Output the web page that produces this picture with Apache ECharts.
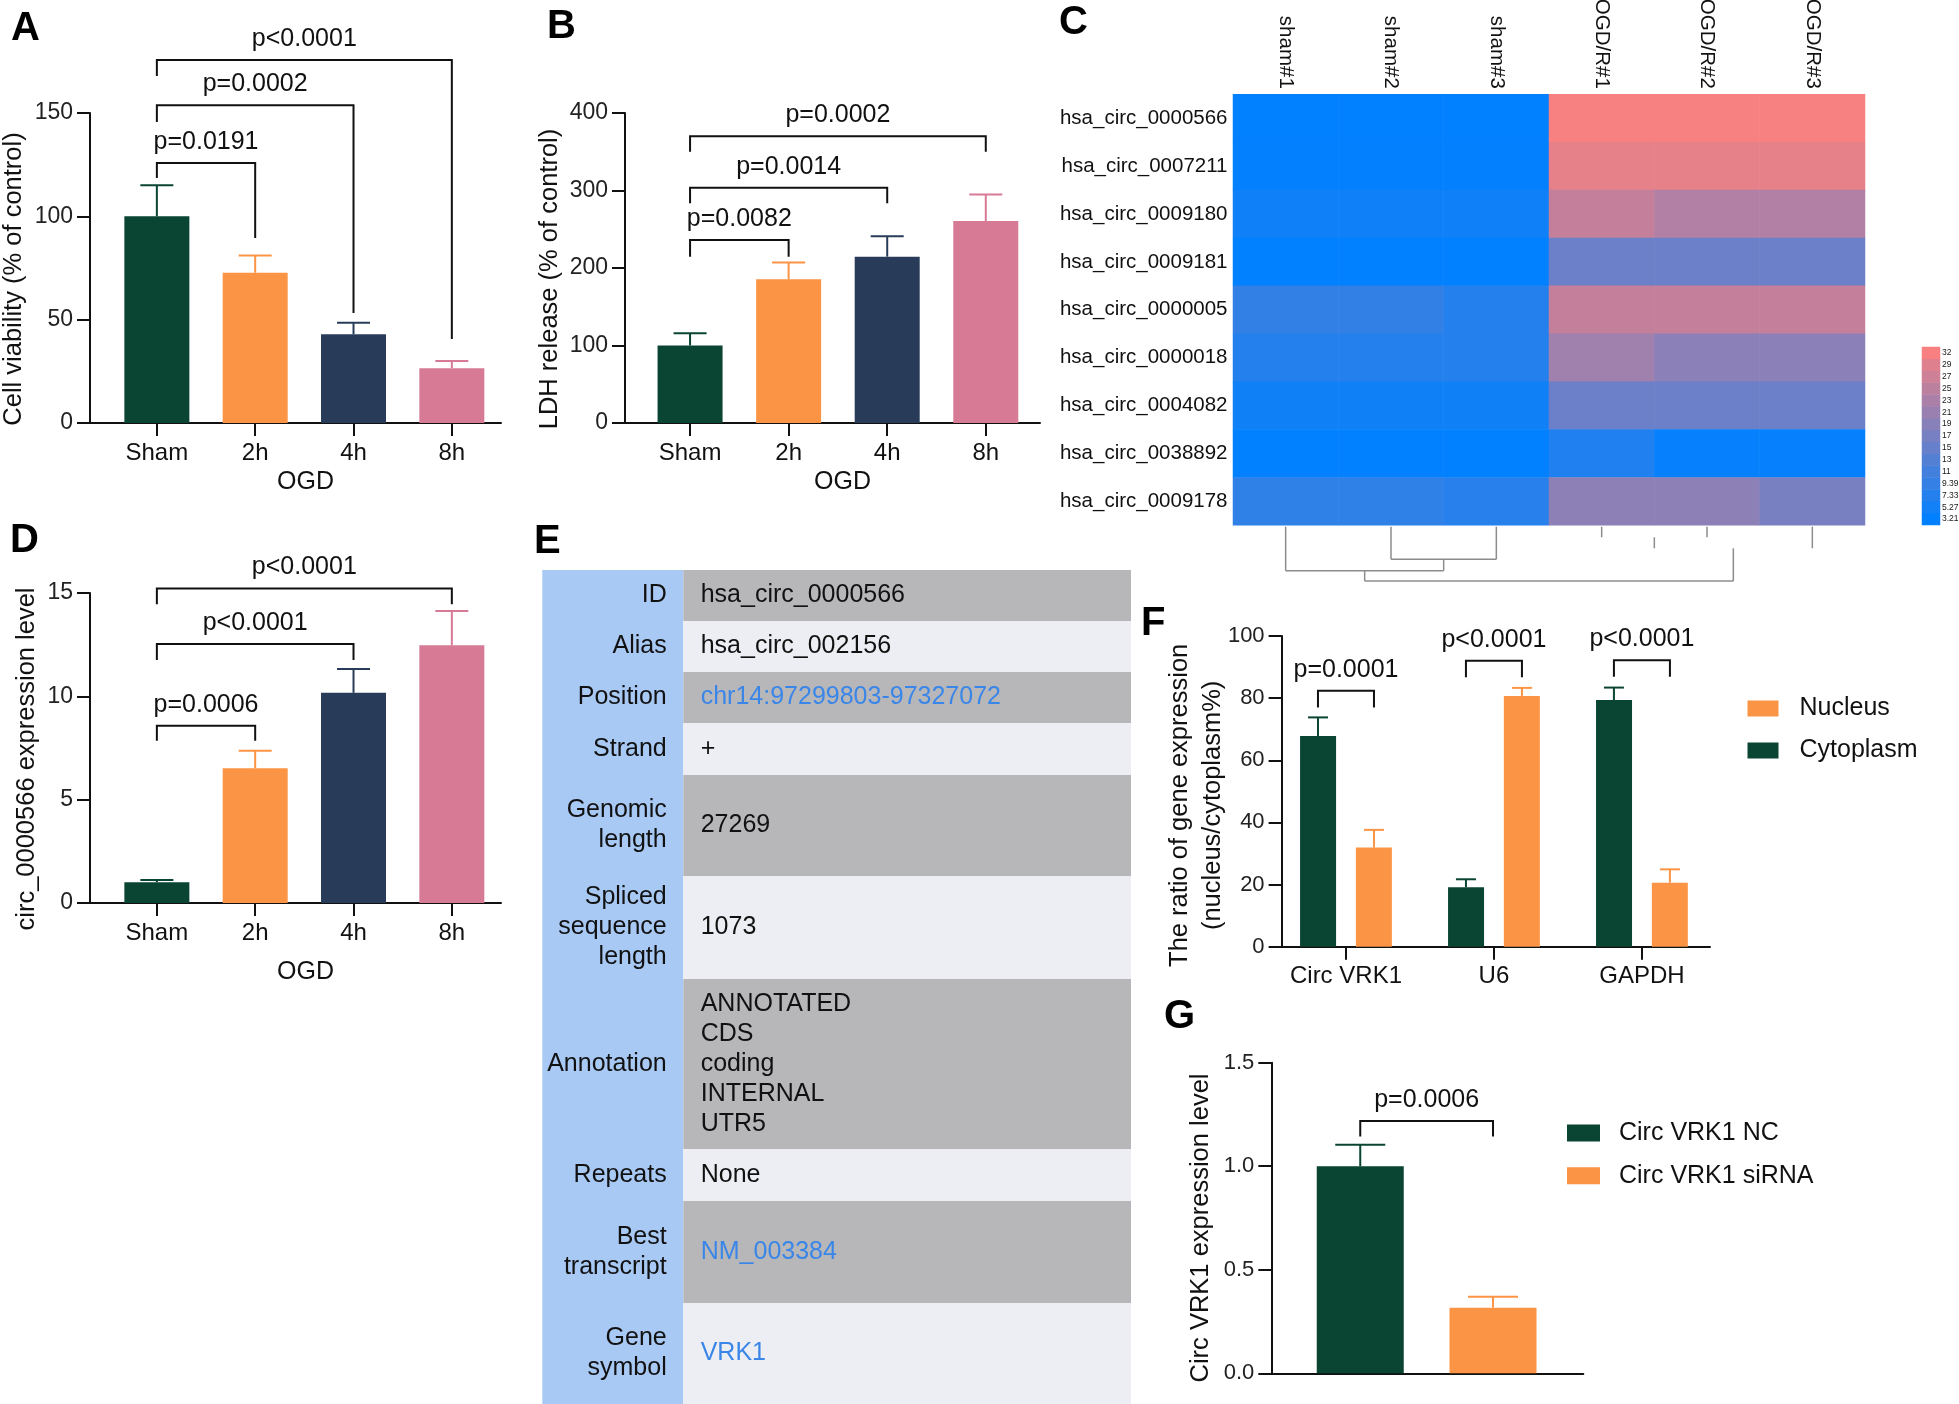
<!DOCTYPE html>
<html>
<head>
<meta charset="utf-8">
<script src="https://cdn.jsdelivr.net/npm/echarts@6/dist/echarts.min.js"></script>
<style>
  html, body { margin: 0; padding: 0; background: #fff; overflow: hidden; }
  #main { width: 1959px; height: 1404px; }
</style>
</head>
<body>
<div id="main"></div>
<script>
// ---- data ----
const ogdGroups = ['Sham', '2h', '4h', '8h'];

const viabilityMean = [100, 72.7, 42.9, 26.5];
const viabilityUpper = [115, 81, 48.5, 30];
// [from, to, bracket height, left leg end, right leg end]
const viabilityPairs = [[0, 1, 125.8, 118.5, 89.5], [0, 2, 153.8, 145.6, 53.2], [0, 3, 175.6, 167.9, 40.6]];
const viabilityP = ['p=0.0191', 'p=0.0002', 'p<0.0001'];

const ldhMean = [100, 185.4, 214.6, 260.6];
const ldhUpper = [115.7, 207, 241, 295];
const ldhPairs = [[0, 1, 236, 214.6, 214.6], [0, 2, 303.6, 283.5, 283.5], [0, 3, 370, 350, 350]];
const ldhP = ['p=0.0082', 'p=0.0014', 'p=0.0002'];

const circMean = [1.0, 6.52, 10.17, 12.47];
const circUpper = [1.11, 7.37, 11.32, 14.13];
const circPairs = [[0, 1, 8.58, 7.85, 7.85], [0, 2, 12.53, 11.76, 11.76], [0, 3, 15.22, 14.46, 14.46]];
const circP = ['p=0.0006', 'p<0.0001', 'p<0.0001'];

const heatCols = ['sham#1', 'sham#2', 'sham#3', 'OGD/R#1', 'OGD/R#2', 'OGD/R#3'];
const heatRows = ['hsa_circ_0000566', 'hsa_circ_0007211', 'hsa_circ_0009180', 'hsa_circ_0009181',
  'hsa_circ_0000005', 'hsa_circ_0000018', 'hsa_circ_0004082', 'hsa_circ_0038892', 'hsa_circ_0009178'];
const heatValues = [
  [3.3, 3.3, 3.3, 31.9, 31.9, 31.9],
  [3.4, 3.4, 3.4, 29.9, 29.9, 29.9],
  [5.0, 5.0, 5.0, 26.0, 23.9, 23.9],
  [3.3, 3.3, 3.3, 15.6, 15.6, 15.6],
  [9.0, 9.0, 7.4, 26.0, 26.0, 26.0],
  [7.4, 7.4, 7.4, 21.8, 19.3, 19.3],
  [5.1, 5.1, 5.1, 15.6, 15.6, 15.6],
  [3.3, 3.3, 3.3, 6.9, 3.9, 3.9],
  [8.7, 8.7, 7.7, 19.5, 19.5, 17.1]
];
const colorbarLabels = ['3.21', '5.27', '7.33', '9.39', '11', '13', '15', '17', '19', '21', '23', '25', '27', '29', '32'];
// column dendrogram: [child a, child b, merge height]; leaves are 0..5, new nodes 6..
const dendroMerges = [[1, 2, 32.6], [0, 6, 44], [3, 4, 10.6], [8, 5, 21.6], [7, 9, 54.3]];
const dendroShowBar = [1, 1, 0, 0, 1];

const tableLabels = ['ID', 'Alias', 'Position', 'Strand', 'Genomic\nlength', 'Spliced\nsequence\nlength',
  'Annotation', 'Repeats', 'Best\ntranscript', 'Gene\nsymbol'];
const tableValues = ['hsa_circ_0000566', 'hsa_circ_002156', 'chr14:97299803-97327072', '+', '27269', '1073',
  'ANNOTATED\nCDS\ncoding\nINTERNAL\nUTR5', 'None', 'NM_003384', 'VRK1'];
const tableLinks = [0, 0, 1, 0, 0, 0, 0, 0, 1, 1];

const fractionGenes = ['Circ VRK1', 'U6', 'GAPDH'];
const cytoMean = [67.8, 19.1, 79.4];
const cytoUpper = [73.8, 21.7, 83.4];
const nucMean = [31.9, 80.7, 20.6];
const nucUpper = [37.6, 83.3, 24.9];
const fractionPairs = [[0, 0, 82.4, 77, 77], [1, 1, 92, 86.7, 86.7], [2, 2, 92.2, 86.9, 86.9]];
const fractionP = ['p=0.0001', 'p<0.0001', 'p<0.0001'];

const knockGroups = ['Circ VRK1 NC', 'Circ VRK1 siRNA'];
const knockMean = [1.0, 0.317];
const knockUpper = [1.104, 0.37];
const knockPairs = [[0, 1, 1.219, 1.143, 1.143]];
const knockP = ['p=0.0006'];

// ---- styling / layout ----
const FONT = '"Liberation Sans", Arial, Helvetica, sans-serif';
const INK = '#111';
const GREEN = '#0a4433', ORANGE = '#fc9445', NAVY = '#283c5a', PINK = '#d77a96';
const ogdColors = [GREEN, ORANGE, NAVY, PINK];
const rowHeights = [51, 51, 51, 52, 101, 103, 170, 52, 102, 101];

var chartDom = document.getElementById('main');
var myChart = echarts.init(chartDom, null, { renderer: 'canvas' });
var option;

const line2 = { color: INK, width: 2 };

function yValueAxis(grid, max, interval, name, nameGap, extra) {
  return Object.assign({
    gridIndex: grid, type: 'value', min: 0, max: max, interval: interval,
    axisLine: { show: true, onZero: false, lineStyle: line2 },
    axisTick: { show: true, length: 13, lineStyle: line2 },
    axisLabel: { fontSize: 23, color: '#222', margin: 17, fontFamily: FONT },
    splitLine: { show: false },
    name: name, nameLocation: 'middle', nameGap: nameGap, nameMoveOverlap: false,
    nameTextStyle: { fontSize: 25.5, color: INK, fontFamily: FONT, padding: [0, 22, 0, 0] }
  }, extra || {});
}

function xGroupAxis(grid, min, max, labels, extra) {
  const ticks = labels.map(function (l, i) { return i; });
  return Object.assign({
    gridIndex: grid, type: 'value', min: min, max: max,
    axisLine: { show: true, onZero: false, lineStyle: line2 },
    axisTick: { show: true, length: 13, lineStyle: line2, customValues: ticks },
    axisLabel: {
      customValues: ticks, fontSize: 24, color: INK, margin: 18, fontFamily: FONT,
      formatter: function (v) { return labels[Math.round(v)]; }
    },
    splitLine: { show: false },
    nameLocation: 'middle', nameMoveOverlap: false,
    nameTextStyle: { fontSize: 25, color: INK, fontFamily: FONT, padding: [0, 0, 0, 20] }
  }, extra || {});
}

function hiddenAxis(grid, type, min, max, inverse) {
  return { gridIndex: grid, type: type, min: min, max: max, inverse: !!inverse, show: false,
    axisLine: { show: false }, axisTick: { show: false }, axisLabel: { show: false }, splitLine: { show: false } };
}

function barSeries(axis, means, colors, width) {
  return {
    type: 'bar', xAxisIndex: axis, yAxisIndex: axis, barWidth: width, silent: true,
    data: means.map(function (m, i) { return { value: [i, m], itemStyle: { color: colors[i] } }; })
  };
}

function errorBars(axis, means, uppers, colors, capWidth, dx) {
  return {
    type: 'custom', xAxisIndex: axis, yAxisIndex: axis, clip: false, silent: true, z: 3,
    data: means.map(function (m, i) { return [i, m, uppers[i]]; }),
    renderItem: function (params, api) {
      const base = api.coord([api.value(0), api.value(1)]);
      const top = api.coord([api.value(0), api.value(2)]);
      const x = base[0] + dx;
      const c = colors[params.dataIndex];
      return { type: 'group', children: [
        { type: 'line', shape: { x1: x, y1: base[1], x2: x, y2: top[1] }, style: { stroke: c, lineWidth: 2 } },
        { type: 'line', shape: { x1: x - capWidth / 2, y1: top[1], x2: x + capWidth / 2, y2: top[1] }, style: { stroke: c, lineWidth: 2 } }
      ] };
    }
  };
}

function brackets(axis, pairs, texts, dxFrom, dxTo) {
  return {
    type: 'custom', xAxisIndex: axis, yAxisIndex: axis, clip: false, silent: true, z: 4,
    data: pairs,
    renderItem: function (params, api) {
      const a = api.coord([api.value(0), api.value(2)]);
      const b = api.coord([api.value(1), api.value(2)]);
      const la = api.coord([api.value(0), api.value(3)]);
      const lb = api.coord([api.value(1), api.value(4)]);
      const x1 = a[0] + dxFrom, x2 = b[0] + dxTo;
      return { type: 'group', children: [
        { type: 'polyline', shape: { points: [[x1, la[1]], [x1, a[1]], [x2, a[1]], [x2, lb[1]]] },
          style: { stroke: INK, lineWidth: 2, fill: null } },
        { type: 'text', x: (x1 + x2) / 2, y: a[1] - 21,
          style: { text: texts[params.dataIndex], fontSize: 25, fontFamily: FONT, fill: INK, align: 'center', verticalAlign: 'middle' } }
      ] };
    }
  };
}

// dendrogram node positions
const nodeX = [0, 1, 2, 3, 4, 5];
const nodeH = [0, 0, 0, 0, 0, 0];
dendroMerges.forEach(function (m) {
  nodeX.push((nodeX[m[0]] + nodeX[m[1]]) / 2);
  nodeH.push(m[2]);
});

// table row spans
const rowStarts = [];
rowHeights.reduce(function (acc, h) { rowStarts.push(acc); return acc + h; }, 0);

const heatData = [];
heatValues.forEach(function (row, r) {
  row.forEach(function (v, c) { heatData.push([c, r, v]); });
});

option = {
  animation: false,
  backgroundColor: '#fff',
  textStyle: { fontFamily: FONT },
  title: [
    ['A', 11, 9], ['B', 547, 7], ['C', 1059, 3], ['D', 10, 521], ['E', 534, 522], ['F', 1141, 604], ['G', 1164, 997]
  ].map(function (t) {
    return { text: t[0], left: t[1], top: t[2], padding: 0,
      textStyle: { fontSize: 40, fontWeight: 'bold', color: '#000', fontFamily: FONT } };
  }),
  grid: [
    { left: 90, top: 113, width: 411, height: 310, outerBoundsMode: 'none' },
    { left: 625, top: 113, width: 415, height: 310, outerBoundsMode: 'none' },
    { left: 90, top: 593, width: 411, height: 310, outerBoundsMode: 'none' },
    { left: 1281.6, top: 636, width: 428.4, height: 310.7, outerBoundsMode: 'none' },
    { left: 1271.3, top: 1062.7, width: 312, height: 310.6, outerBoundsMode: 'none' },
    { left: 1233, top: 94.3, width: 632, height: 431, outerBoundsMode: 'none' },
    { left: 1922, top: 347, width: 18, height: 178, outerBoundsMode: 'none' },
    { left: 1233, top: 525, width: 632, height: 60, outerBoundsMode: 'none' },
    { left: 542.3, top: 570, width: 588.7, height: 834, outerBoundsMode: 'none' }
  ],
  xAxis: [
    xGroupAxis(0, -0.68, 3.5, ogdGroups, { name: 'OGD', nameGap: 47 }),
    xGroupAxis(1, -0.66, 3.55, ogdGroups, { name: 'OGD', nameGap: 47 }),
    xGroupAxis(2, -0.68, 3.5, ogdGroups, { name: 'OGD', nameGap: 57 }),
    xGroupAxis(3, -0.435, 2.46, fractionGenes),
    {
      gridIndex: 4, type: 'value', min: -0.67, max: 1.68,
      axisLine: { show: true, onZero: false, lineStyle: line2 },
      axisTick: { show: false }, axisLabel: { show: false }, splitLine: { show: false }
    },
    {
      gridIndex: 5, type: 'category', data: heatCols, position: 'top',
      axisLine: { show: false }, axisTick: { show: false }, splitArea: { show: false },
      // positive rotate = counter-clockwise: names read upward from the heatmap
      axisLabel: { rotate: 90, margin: 5.5, fontSize: 20.5, color: INK, interval: 0, fontFamily: FONT }
    },
    { gridIndex: 6, type: 'category', data: [''], show: false },
    hiddenAxis(7, 'value', -0.5, 5.5),
    hiddenAxis(8, 'value', 0, 588.7)
  ],
  yAxis: [
    yValueAxis(0, 150, 50, 'Cell viability (% of control)', 63.5),
    yValueAxis(1, 400, 100, 'LDH release (% of control)', 62.5),
    yValueAxis(2, 15, 5, 'circ_0000566 expression level', 50.5),
    yValueAxis(3, 100, 20, 'The ratio of gene expression\n(nucleus/cytoplasm%)', 52, {
      axisLabel: { fontSize: 22, color: '#222', margin: 17, fontFamily: FONT },
      nameTextStyle: { fontSize: 25.5, lineHeight: 33, color: INK, fontFamily: FONT, padding: [0, 28, 0, 0] }
    }),
    yValueAxis(4, 1.5, 0.5, 'Circ VRK1 expression level', 57, {
      axisLabel: { fontSize: 22, color: '#222', margin: 17, fontFamily: FONT,
        formatter: function (v) { return v.toFixed(1); } },
      nameTextStyle: { fontSize: 25.5, color: INK, fontFamily: FONT, padding: [0, 20, 0, 0] }
    }),
    {
      gridIndex: 5, type: 'category', data: heatRows, inverse: true,
      axisLine: { show: false }, axisTick: { show: false }, splitArea: { show: false },
      axisLabel: { margin: 5.5, fontSize: 20.5, color: INK, interval: 0, fontFamily: FONT }
    },
    {
      gridIndex: 6, type: 'category', data: colorbarLabels, position: 'right',
      axisLine: { show: false }, axisTick: { show: false }, splitArea: { show: false },
      axisLabel: { margin: 2, fontSize: 8.5, color: '#1a1a1a', interval: 0, fontFamily: FONT }
    },
    hiddenAxis(7, 'value', -1.7, 58.3, true),
    hiddenAxis(8, 'value', 0, 834, true)
  ],
  visualMap: {
    type: 'continuous', show: false, min: 3.21, max: 32, dimension: 2,
    seriesIndex: [0, 1],
    inRange: { color: ['#0080ff', '#f88080'] }
  },
  legend: [
    {
      data: ['Nucleus', 'Cytoplasm'], orient: 'vertical', left: 1747.5, top: 696, padding: 0,
      itemWidth: 31, itemHeight: 16, itemGap: 17, icon: 'rect', selectedMode: false,
      textStyle: { fontSize: 25, color: INK, fontFamily: FONT, padding: [0, 0, 0, 16] }
    },
    {
      data: knockGroups, orient: 'vertical', left: 1567, top: 1120.5, padding: 0,
      itemWidth: 33, itemHeight: 17, itemGap: 17.7, icon: 'rect', selectedMode: false,
      textStyle: { fontSize: 25, color: INK, fontFamily: FONT, padding: [0, 0, 0, 14] }
    }
  ],
  series: [
    // 0: heatmap, 1: colour bar
    {
      type: 'heatmap', xAxisIndex: 5, yAxisIndex: 5, data: heatData, silent: true,
      itemStyle: { borderWidth: 0 }
    },
    {
      type: 'heatmap', xAxisIndex: 6, yAxisIndex: 6, silent: true,
      data: colorbarLabels.map(function (l, i) { return [0, i, parseFloat(l)]; })
    },
    // column dendrogram
    {
      type: 'custom', xAxisIndex: 7, yAxisIndex: 7, clip: false, silent: true,
      data: dendroMerges,
      renderItem: function (params, api) {
        const i = params.dataIndex;
        const m = dendroMerges[i];
        const h = m[2];
        const a = m[0], b = m[1];
        const style = { stroke: '#8c8c8c', lineWidth: 1.5 };
        const pa0 = api.coord([nodeX[a], nodeH[a]]), pa1 = api.coord([nodeX[a], h]);
        const pb0 = api.coord([nodeX[b], nodeH[b]]), pb1 = api.coord([nodeX[b], h]);
        const kids = [
          { type: 'line', shape: { x1: pa0[0], y1: pa0[1], x2: pa1[0], y2: pa1[1] }, style: style },
          { type: 'line', shape: { x1: pb0[0], y1: pb0[1], x2: pb1[0], y2: pb1[1] }, style: style }
        ];
        if (dendroShowBar[i]) {
          kids.push({ type: 'line', shape: { x1: pa1[0], y1: pa1[1], x2: pb1[0], y2: pb1[1] }, style: style });
        }
        return { type: 'group', children: kids };
      }
    },
    // table E
    {
      type: 'custom', xAxisIndex: 8, yAxisIndex: 8, clip: false, silent: true,
      data: rowStarts.map(function (s, i) { return [s, s + rowHeights[i]]; }),
      renderItem: function (params, api) {
        const i = params.dataIndex;
        const p0 = api.coord([0, api.value(0)]);
        const p1 = api.coord([588.7, api.value(1)]);
        const split = api.coord([141, 0])[0];
        const midY = (p0[1] + p1[1]) / 2;
        return { type: 'group', children: [
          { type: 'rect', shape: { x: p0[0], y: p0[1], width: split - p0[0], height: p1[1] - p0[1] },
            style: { fill: '#a9c9f5' } },
          { type: 'rect', shape: { x: split, y: p0[1], width: p1[0] - split, height: p1[1] - p0[1] },
            style: { fill: i % 2 === 0 ? '#b7b7ba' : '#edeef3' } },
          { type: 'text', x: api.coord([124.4, 0])[0], y: midY,
            style: { text: tableLabels[i], fontSize: 25, lineHeight: 30, fontFamily: FONT, fill: INK,
              align: 'right', verticalAlign: 'middle' } },
          { type: 'text', x: api.coord([158.4, 0])[0], y: midY,
            style: { text: tableValues[i], fontSize: 25, lineHeight: 30, fontFamily: FONT,
              fill: tableLinks[i] ? '#3a86e8' : INK, align: 'left', verticalAlign: 'middle' } }
        ] };
      }
    },
    // A
    barSeries(0, viabilityMean, ogdColors, 65),
    errorBars(0, viabilityMean, viabilityUpper, ogdColors, 33, 0),
    brackets(0, viabilityPairs, viabilityP, 0, 0),
    // B
    barSeries(1, ldhMean, ogdColors, 65),
    errorBars(1, ldhMean, ldhUpper, ogdColors, 33, 0),
    brackets(1, ldhPairs, ldhP, 0, 0),
    // D
    barSeries(2, circMean, ogdColors, 65),
    errorBars(2, circMean, circUpper, ogdColors, 33, 0),
    brackets(2, circPairs, circP, 0, 0),
    // F
    {
      name: 'Cytoplasm', type: 'bar', xAxisIndex: 3, yAxisIndex: 3, barWidth: 36, barGap: '55%', silent: true,
      itemStyle: { color: GREEN },
      data: cytoMean.map(function (m, i) { return [i, m]; })
    },
    {
      name: 'Nucleus', type: 'bar', xAxisIndex: 3, yAxisIndex: 3, barWidth: 36, barGap: '55%', silent: true,
      itemStyle: { color: ORANGE },
      data: nucMean.map(function (m, i) { return [i, m]; })
    },
    errorBars(3, cytoMean, cytoUpper, [GREEN, GREEN, GREEN], 20, -28),
    errorBars(3, nucMean, nucUpper, [ORANGE, ORANGE, ORANGE], 20, 28),
    brackets(3, fractionPairs, fractionP, -28, 28),
    // G
    {
      name: knockGroups[0], type: 'bar', xAxisIndex: 4, yAxisIndex: 4, barWidth: 87, barGap: '-100%', silent: true,
      itemStyle: { color: GREEN }, data: [[0, knockMean[0]]]
    },
    {
      name: knockGroups[1], type: 'bar', xAxisIndex: 4, yAxisIndex: 4, barWidth: 87, barGap: '-100%', silent: true,
      itemStyle: { color: ORANGE }, data: [[1, knockMean[1]]]
    },
    errorBars(4, knockMean, knockUpper, [GREEN, ORANGE], 50, 0),
    brackets(4, knockPairs, knockP, 0, 0)
  ]
};

option && myChart.setOption(option);
</script>
</body>
</html>
